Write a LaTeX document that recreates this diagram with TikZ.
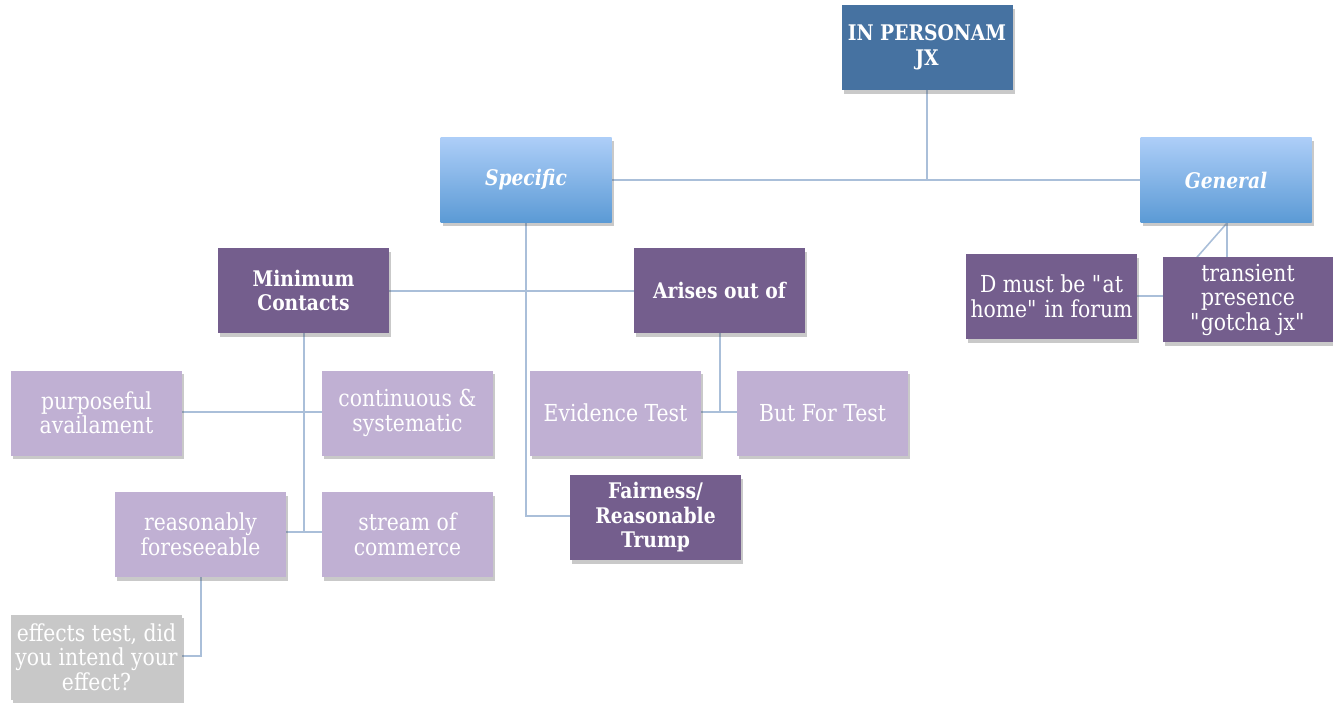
\documentclass[tikz,border=0pt]{standalone}
\usepackage{fontspec}
\setmainfont[FakeStretch=0.87]{DejaVu Serif}
\usetikzlibrary{shadows}

\definecolor{rootblue}{HTML}{4672A1}
\definecolor{gradtop}{HTML}{ADCEF8}
\definecolor{gradbot}{HTML}{5B9AD5}
\definecolor{darkviolet}{HTML}{745E8D}
\definecolor{lightviolet}{HTML}{C0B0D3}
\definecolor{greybox}{HTML}{C8C8C8}
\definecolor{linkline}{HTML}{AABFD9}

\newcommand{\headfont}{\fontsize{21.5}{24.5}\selectfont}
\newcommand{\bodyfont}{\fontsize{23.4}{24.5}\selectfont}

\tikzset{
  card/.style={rectangle, minimum width=171pt, minimum height=85pt, inner sep=1pt,
    align=center, text=white, font=\bodyfont,
    drop shadow={shadow xshift=2pt, shadow yshift=-3.5pt, opacity=0.3, fill=black!70}},
  rootbox/.style={card, fill=rootblue, font=\bfseries\headfont},
  branchbox/.style={card, top color=gradtop, bottom color=gradbot,
    font=\bfseries\itshape\headfont},
  headbox/.style={card, fill=darkviolet, font=\bfseries\headfont},
  plainhead/.style={card, fill=darkviolet},
  leafbox/.style={card, fill=lightviolet},
  greyleaf/.style={card, fill=greybox},
  link/.style={draw=linkline, line width=1.6pt}
}

\begin{document}
\begin{tikzpicture}[x=1pt, y=-1pt]
\useasboundingbox (0,0) rectangle (1333,704);

% connector anchor points
\coordinate (rootdrop) at (927,180);
\coordinate (specbend) at (526,516);
\coordinate (mincdrop) at (304,532);
\coordinate (arisedrop) at (720,412);
\coordinate (genbend) at (1163,296);
\coordinate (genvert) at (1227,257);
\coordinate (reasbend) at (201,656);

% connectors (drawn first so the boxes cover their ends)
\draw[link] (927,90) -- (rootdrop);
\draw[link] (612,180) -- (1140,180);
\draw[link] (526,223) -- (specbend) -- (570,516);
\draw[link] (389,291) -- (634,291);
\draw[link] (304,333) -- (mincdrop);
\draw[link] (182,412) -- (322,412);
\draw[link] (286,532) -- (322,532);
\draw[link] (720,333) -- (arisedrop);
\draw[link] (701,412) -- (737,412);
\draw[link] (1227,223) -- (genvert);
\draw[link] (1227,223) -- (genbend) -- (1137,296);
\draw[link] (201,577) -- (reasbend) -- (182,656);

% boxes
\node[rootbox]   (root)   at (927,47.5)   {IN PERSONAM\\JX};
\node[branchbox] (spec)   at (526,180)    {Specific};
\node[branchbox] (gen)    at (1226,180)   {General};
\node[headbox]   (minc)   at (303.5,290.5){Minimum\\Contacts};
\node[headbox]   (arise)  at (719.5,290.5){Arises out of};
\node[plainhead] (home)   at (1051.5,296.5){D must be \textquotedbl at\\home\textquotedbl{} in forum};
\node[plainhead] (trans)  at (1248,299.5) {transient\\presence\\\textquotedbl gotcha jx\textquotedbl};
\node[leafbox]   (purp)   at (96.5,413)   {purposeful\\availament};
\node[leafbox]   (cont)   at (407.5,413)  {continuous \&\\systematic};
\node[leafbox]   (evid)   at (615.5,413)  {Evidence Test};
\node[leafbox]   (butf)   at (822.5,413)  {But For Test};
\node[leafbox]   (reas)   at (200.5,534.5){reasonably\\foreseeable};
\node[leafbox]   (stream) at (407.5,534.5){stream of\\commerce};
\node[headbox]   (fair)   at (655.5,517.5){Fairness/\\Reasonable\\Trump};
\node[greyleaf]  (eff)    at (96.5,657)   {effects test, did\\you intend your\\effect?};
\end{tikzpicture}
\end{document}
